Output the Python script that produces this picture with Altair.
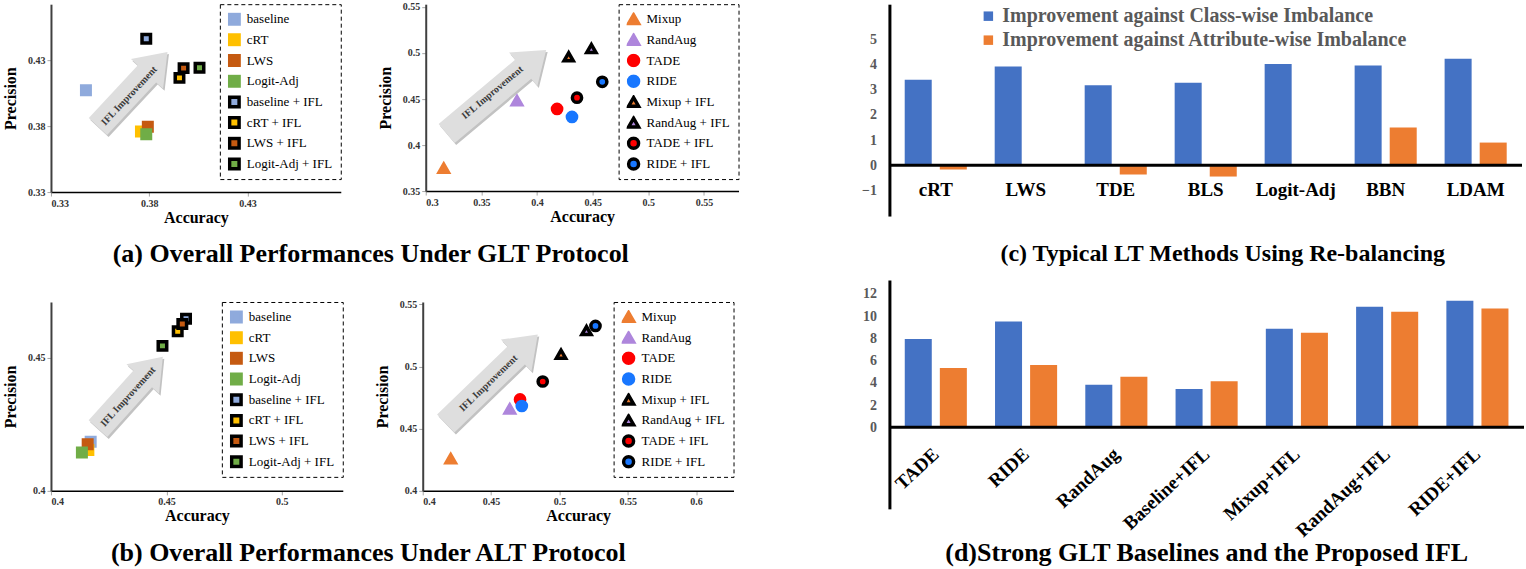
import altair as alt
import pandas as pd

SERIF = "Liberation Serif"

# ---------------- data ----------------
base_methods = ["baseline", "cRT", "LWS", "Logit-Adj",
                "baseline + IFL", "cRT + IFL", "LWS + IFL", "Logit-Adj + IFL"]
base_colors = ["#8FAADC", "#FFC000", "#C55A11", "#70AD47"]
base_shapes = ["square", "square", "square", "square"]

glt_base_acc = [0.3478, 0.3758, 0.3793, 0.3785, 0.3785, 0.3954, 0.3975, 0.4056]
glt_base_prec = [0.4073, 0.3760, 0.3796, 0.3738, 0.4463, 0.4166, 0.4240, 0.4242]
alt_base_acc = [0.4172, 0.4162, 0.4159, 0.4134, 0.4585, 0.4549, 0.4569, 0.4483]
alt_base_prec = [0.4185, 0.4154, 0.4175, 0.4144, 0.4647, 0.4600, 0.4627, 0.4545]

aug_methods = ["Mixup", "RandAug", "TADE", "RIDE",
               "Mixup + IFL", "RandAug + IFL", "TADE + IFL", "RIDE + IFL"]
aug_colors = ["#ED7D31", "#AE86DC", "#FF0000", "#1877FF"]
aug_shapes = ["triangle-up", "triangle-up", "circle", "circle"]

glt_aug_acc = [0.3162, 0.3820, 0.4180, 0.4314, 0.4284, 0.4488, 0.4359, 0.4586]
glt_aug_prec = [0.3749, 0.4482, 0.4392, 0.4305, 0.4958, 0.5048, 0.4514, 0.4687]
alt_aug_acc = [0.4205, 0.4637, 0.4712, 0.4725, 0.5012, 0.5198, 0.4878, 0.5264]
alt_aug_prec = [0.4259, 0.4659, 0.4736, 0.4683, 0.5100, 0.5290, 0.4880, 0.5327]

arrow_text = "IFL Improvement"
# arrow annotation: centre (acc, prec), length px, angle; text centre (acc, prec), angle
a1_arrow = [0.3716, 0.4080, 102, 313]
a1_text = [0.3698, 0.4030, 313]
a2_arrow = [0.3635, 0.4579, 130, 320]
a2_text = [0.3599, 0.4570, 320]
b1_arrow = [0.4344, 0.4369, 97, 312]
b1_text = [0.4334, 0.4354, 312]
b2_arrow = [0.4505, 0.4900, 128, 316]
b2_text = [0.4481, 0.4866, 316]

bar_series = ["Improvement against Class-wise Imbalance",
              "Improvement against Attribute-wise Imbalance"]
bar_colors = ["#4472C4", "#ED7D31"]

rebal_methods = ["cRT", "LWS", "TDE", "BLS", "Logit-Adj", "BBN", "LDAM"]
rebal_class = [3.40, 3.92, 3.18, 3.28, 4.02, 3.96, 4.23]
rebal_attr = [-0.17, 0.0, -0.37, -0.45, 0.0, 1.50, 0.90]

strong_methods = ["TADE", "RIDE", "RandAug", "Baseline+IFL", "Mixup+IFL", "RandAug+IFL", "RIDE+IFL"]
strong_class = [7.95, 9.53, 3.84, 3.45, 8.88, 10.86, 11.40]
strong_attr = [5.35, 5.60, 4.56, 4.14, 8.52, 10.40, 10.70]

zero_line = [0]

INDEP = dict(fill="independent", stroke="independent", shape="independent", color="independent")


def arrow_path(length, body=25.0, head=44.0, headlen=30.0):
    h = length / 2.0
    bw = body / 2.0 / h
    hw = head / 2.0 / h
    hx = 1.0 - headlen / h
    return (f"M-1,{-bw:.4f} L{hx:.4f},{-bw:.4f} L{hx:.4f},{-hw:.4f} L1,0 "
            f"L{hx:.4f},{hw:.4f} L{hx:.4f},{bw:.4f} L-1,{bw:.4f} Z")


def scatter(field, methods, colors, shapes, acc, prec, xdom, ydom, xvals, yvals,
            w, h, arr, txt, size, lsize):
    df = pd.DataFrame({"acc": acc, "prec": prec, field: methods})
    x_enc = alt.X("acc:Q", scale=alt.Scale(domain=xdom, nice=False, zero=False),
                  axis=alt.Axis(values=xvals, format="~g", title="Accuracy", grid=False,
                                labelFont=SERIF, labelFontWeight="bold", labelFontSize=10,
                                labelColor="#333333", labelPadding=2,
                                titleFont=SERIF, titleFontWeight="bold", titleFontSize=16,
                                titleColor="black", titlePadding=1,
                                domainColor="black", domainWidth=1.5,
                                tickColor="#A6A6A6", tickSize=4))
    y_enc = alt.Y("prec:Q", scale=alt.Scale(domain=ydom, nice=False, zero=False),
                  axis=alt.Axis(values=yvals, format="~g", title="Precision", grid=False,
                                labelFont=SERIF, labelFontWeight="bold", labelFontSize=10,
                                labelColor="#333333", labelPadding=2,
                                titleFont=SERIF, titleFontWeight="bold", titleFontSize=16,
                                titleColor="black", titlePadding=9,
                                domainColor="#404040", domainWidth=2,
                                tickColor="#A6A6A6", tickSize=4))
    adf = pd.DataFrame({"acc": [arr[0]], "prec": [arr[1]]})
    path = arrow_path(arr[2])
    shadow = alt.Chart(adf).mark_point(
        shape=path, size=arr[2] ** 2, angle=arr[3], filled=True, fill="#C2C2C2",
        opacity=1, strokeWidth=0, xOffset=1.5, yOffset=2).encode(x=x_enc, y=y_enc)
    arrow = alt.Chart(adf).mark_point(
        shape=path, size=arr[2] ** 2, angle=arr[3], filled=True, fill="#DEDEDE",
        opacity=1, strokeWidth=0).encode(x=x_enc, y=y_enc)
    tdf = pd.DataFrame({"acc": [txt[0]], "prec": [txt[1]]})
    label = alt.Chart(tdf).mark_text(
        text=arrow_text, angle=txt[2], font=SERIF, fontWeight="bold", fontSize=10,
        color="#3A3A3A").encode(x=x_enc, y=y_enc)
    leg = alt.Legend(title=None, orient="top-right", offset=0, padding=8,
                     strokeColor="black", fillColor="white",
                     labelFont=SERIF, labelFontSize=13, labelColor="black", labelLimit=300,
                     symbolStrokeWidth=3.5, symbolSize=lsize, rowPadding=6.7, labelOffset=6,
                     clipHeight=14)
    pts = alt.Chart(df).mark_point(filled=True, opacity=1, strokeWidth=3.5, size=size).encode(
        x=x_enc, y=y_enc,
        fill=alt.Fill(f"{field}:N", scale=alt.Scale(domain=methods, range=colors + colors), legend=leg),
        stroke=alt.Stroke(f"{field}:N", scale=alt.Scale(domain=methods, range=colors + ["black"] * 4), legend=leg),
        shape=alt.Shape(f"{field}:N", scale=alt.Scale(domain=methods, range=shapes + shapes), legend=leg),
    )
    return alt.layer(shadow, arrow, label, pts).properties(width=w, height=h)


def bars(methods, cls, att, ydom, yvals, w, h, angle, offset, legend, title, title_offset,
         dx=0, title_size=26):
    df = pd.DataFrame({
        "method": methods + methods,
        "series": [bar_series[0]] * len(methods) + [bar_series[1]] * len(methods),
        "value": cls + att,
    })
    xaxis = dict(title=None, domain=False, ticks=False, tickSize=0, labelFont=SERIF,
                 labelFontWeight="bold", labelFontSize=19, labelColor="black",
                 offset=offset, labelPadding=0, labelAngle=angle)
    if angle != 0:
        xaxis.update(labelAlign="right", labelBaseline="middle")
    y_enc = alt.Y("value:Q", scale=alt.Scale(domain=ydom, nice=False, zero=False),
                  axis=alt.Axis(values=yvals, title=None, grid=False, ticks=False,
                                domainColor="black", domainWidth=3, labelFont=SERIF,
                                labelFontWeight="bold", labelFontSize=14,
                                labelColor="#595959", labelPadding=13))
    b = alt.Chart(df).mark_bar().encode(
        x=alt.X("method:N", sort=methods,
                scale=alt.Scale(paddingInner=0.31, paddingOuter=0.17),
                axis=alt.Axis(**xaxis)),
        xOffset=alt.XOffset("series:N", sort=bar_series,
                            scale=alt.Scale(paddingInner=0.23, paddingOuter=0)),
        y=y_enc,
        color=alt.Color("series:N", scale=alt.Scale(domain=bar_series, range=bar_colors),
                        legend=legend),
    )
    z = alt.Chart(pd.DataFrame({"value": zero_line})).mark_rule(
        color="black", strokeWidth=3).encode(y=y_enc)
    return alt.layer(b, z).properties(
        width=w, height=h,
        title=alt.TitleParams(title, orient="bottom", anchor="middle", font=SERIF,
                              fontSize=title_size, fontWeight="bold", color="black",
                              offset=title_offset, dx=dx))


def title(text, off):
    return alt.TitleParams(text, orient="bottom", anchor="middle", font=SERIF, fontSize=26,
                           fontWeight="bold", color="black", offset=off)


a1 = scatter("m_a1", base_methods, base_colors, base_shapes, glt_base_acc, glt_base_prec,
             [0.33, 0.4775], [0.33, 0.4725], [0.33, 0.38, 0.43], [0.33, 0.38, 0.43],
             290, 188, a1_arrow, a1_text, 72, 90)
a2 = scatter("m_a2", aug_methods, aug_colors, aug_shapes, glt_aug_acc, glt_aug_prec,
             [0.3, 0.581], [0.35, 0.553], [0.3, 0.35, 0.4, 0.45, 0.5, 0.55],
             [0.35, 0.4, 0.45, 0.5, 0.55], 313, 187, a2_arrow, a2_text, 85, 100)
b1 = scatter("m_b1", base_methods, base_colors, base_shapes, alt_base_acc, alt_base_prec,
             [0.4, 0.5264], [0.4, 0.471], [0.4, 0.45, 0.5], [0.4, 0.45],
             292, 189, b1_arrow, b1_text, 72, 90)
b2 = scatter("m_b2", aug_methods, aug_colors, aug_shapes, alt_aug_acc, alt_aug_prec,
             [0.4, 0.6274], [0.4, 0.552], [0.4, 0.45, 0.5, 0.55, 0.6],
             [0.4, 0.45, 0.5, 0.55], 311, 189, b2_arrow, b2_text, 85, 100)

a_pair = alt.hconcat(a1, a2, spacing=35,
                     title=title("(a) Overall Performances Under GLT Protocol", 16)
                     ).resolve_scale(**INDEP).resolve_legend(**INDEP)
b_pair = alt.hconcat(b1, b2, spacing=30,
                     title=title("(b) Overall Performances Under ALT Protocol", 16)
                     ).resolve_scale(**INDEP).resolve_legend(**INDEP)

c_legend = alt.Legend(title=None, orient="none", legendX=89, legendY=2, direction="vertical",
                      labelFont=SERIF, labelFontWeight="bold", labelFontSize=20,
                      labelColor="#595959", labelLimit=600, symbolType="square",
                      symbolSize=90, symbolStrokeWidth=0, rowPadding=4, padding=0,
                      strokeColor="transparent", labelOffset=4)
c_chart = bars(rebal_methods, rebal_class, rebal_attr, [-2.02, 6.4], [-1, 0, 1, 2, 3, 4, 5],
               633, 212, 0, -36, c_legend, "(c) Typical LT Methods Using Re-balancing", 26,
               dx=17, title_size=24)
d_chart = bars(strong_methods, strong_class, strong_attr, [-7.34, 13.26],
               [0, 2, 4, 6, 8, 10, 12], 635, 229, 317, -58, None,
               "(d)Strong GLT Baselines and the Proposed IFL", 0)

left_col = alt.vconcat(a_pair, b_pair, spacing=32).resolve_scale(**INDEP).resolve_legend(**INDEP)
right_col = alt.vconcat(c_chart, d_chart, spacing=14).resolve_scale(**INDEP).resolve_legend(**INDEP)

chart = alt.hconcat(left_col, right_col, spacing=122).resolve_scale(**INDEP).resolve_legend(**INDEP)
chart = chart.properties(
    padding={"left": 2, "top": 1, "right": 0, "bottom": 0},
    background="white",
).configure_view(stroke=None).configure_legend(strokeDash=[4, 3], strokeWidth=1)

chart.save("out.html", embed_options={"renderer": "svg", "actions": False})
